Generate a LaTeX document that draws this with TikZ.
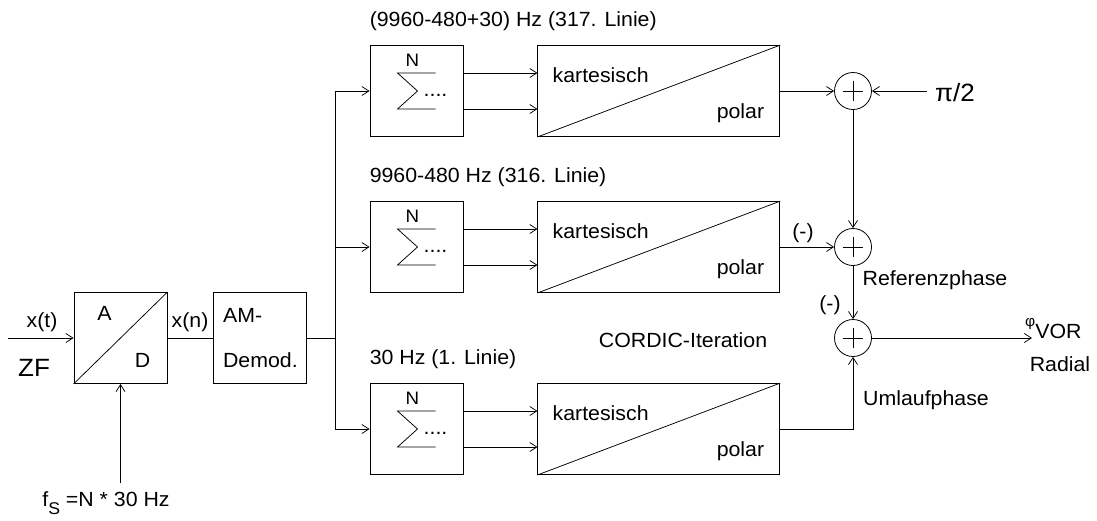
\documentclass[tikz,border=0pt]{standalone}
\usepackage{fontspec}
\setmainfont{Liberation Sans}[FakeStretch=1.04]
\usetikzlibrary{arrows.meta,positioning}
\tikzset{
  blk/.style={draw,line width=.9pt,minimum width=93pt,minimum height=91pt,inner sep=0pt},
  cordic/.style={draw,line width=.9pt,minimum width=242pt,minimum height=91pt,inner sep=0pt},
  adder/.style={circle,draw,line width=.8pt,minimum size=37pt,inner sep=0pt,
    path picture={\draw[line width=.8pt]
      ([xshift=-10pt]path picture bounding box.center)--([xshift=10pt]path picture bounding box.center)
      ([yshift=-10pt]path picture bounding box.center)--([yshift=10pt]path picture bounding box.center);}},
  flow/.style={-{Straight Barb[length=7pt,width=9pt]},line width=.75pt},
  wire/.style={line width=.75pt},
  txt/.style={inner sep=0pt,font=\fontsize{20.5}{24}\selectfont},
  bigtxt/.style={inner sep=0pt,font=\fontsize{25}{29}\selectfont}
}

\begin{document}
\begin{tikzpicture}[x=1pt,y=-1pt]
\useasboundingbox (0,0) rectangle (1097,520);
% front end
\node[blk] (ad) at (120.5,338) {};
\node[blk,right=46pt of ad,txt,align=left] (am) {AM-\\[21pt]Demod.};
\draw[wire] (ad.south west) -- (ad.north east);
\node[txt] (adA) at ([shift={(-16,-25)}]ad.center) {A};
\node[txt] (adD) at ([shift={(22,22)}]ad.center) {D};
\coordinate (in) at (8,338);
\coordinate (clk) at (120.5,483);
\coordinate (br) at (335,338);
\draw[flow] (in) -- (ad.west);
\draw[flow] (clk) -- (ad.south);
\draw[wire] (ad.east) -- (am.west);
\draw[wire] (am.east) -- (br);
\node[txt] (xt) at (42,322) {x(t)};
\node[bigtxt] (zf) at (34,368) {ZF};
\node[txt] (xn) at (190,322) {x(n)};
\node[txt] (fs) at (106,503) {f\raisebox{-8pt}{\fontsize{17}{19}\selectfont S} =N * 30 Hz};

% three filter rows
\foreach \r/\y/\hd in {1/91/{(9960-480+30) Hz (317. Linie)},2/247/{9960-480 Hz (316. Linie)},3/429/{30 Hz (1. Linie)}}{
  \node[blk] (s\r) at (416.5,\y) {};
  \node[cordic,right=74pt of s\r] (k\r) {};
  \node[txt,anchor=west] (hd\r) at ([yshift=23.5pt]s\r.north west) {\hd};
  \draw[wire] ([shift={(19,-18)}]s\r.center) -- ++(-38,0) -- ++(20,18) -- ++(-20,18) -- ++(38,0);
  \node[inner sep=0pt,font=\fontsize{18}{20}\selectfont] (n\r) at ([shift={(-4,-31)}]s\r.center) {N};
  \node[txt,anchor=base west] (dt\r) at ([shift={(7,5)}]s\r.center) {....};
  \draw[flow] ([yshift=18pt]s\r.east) -- ([yshift=18pt]k\r.west);
  \draw[flow] ([yshift=-18pt]s\r.east) -- ([yshift=-18pt]k\r.west);
  \draw[wire] (k\r.south west) -- (k\r.north east);
  \node[txt,anchor=west] (ka\r) at ([shift={(15,-16)}]k\r.west) {kartesisch};
  \node[txt,anchor=east] (po\r) at ([shift={(-16,22)}]k\r.east) {polar};
  \draw[flow] (br) |- (s\r.west);
}

% phase combination
\node[adder] (p1) at (853,91) {};
\node[adder] (p2) at (853,247) {};
\node[adder] (p3) at (853,338) {};
\node[bigtxt,inner xsep=8pt] (pi2) at (955,93) {π/2};
\coordinate (out) at (1032,338);
\draw[flow] (k1.east) -- (p1.west);
\draw[flow] (pi2.west |- p1.east) -- (p1.east);
\draw[flow] (p1.south) -- (p2.north);
\draw[flow] (k2.east) -- (p2.west);
\draw[flow] (p2.south) -- (p3.north);
\draw[flow] (k3.east) -| (p3.south);
\draw[flow] (p3.east) -- (out);
\node[txt] (m1) at (803,233) {(-)};
\node[txt] (m2) at (830,305) {(-)};
\node[txt] (ref) at (935,280) {Referenzphase};
\node[txt] (uml) at (926,400) {Umlaufphase};
\node[txt] (cordictxt) at (683,340) {CORDIC-Iteration};
\node[txt,anchor=base west] (phi) at (1025,338) {\raisebox{12pt}{\fontsize{15}{17}\selectfont φ}VOR};
\node[txt] (rad) at (1060,364) {Radial};
\end{tikzpicture}
\end{document}
